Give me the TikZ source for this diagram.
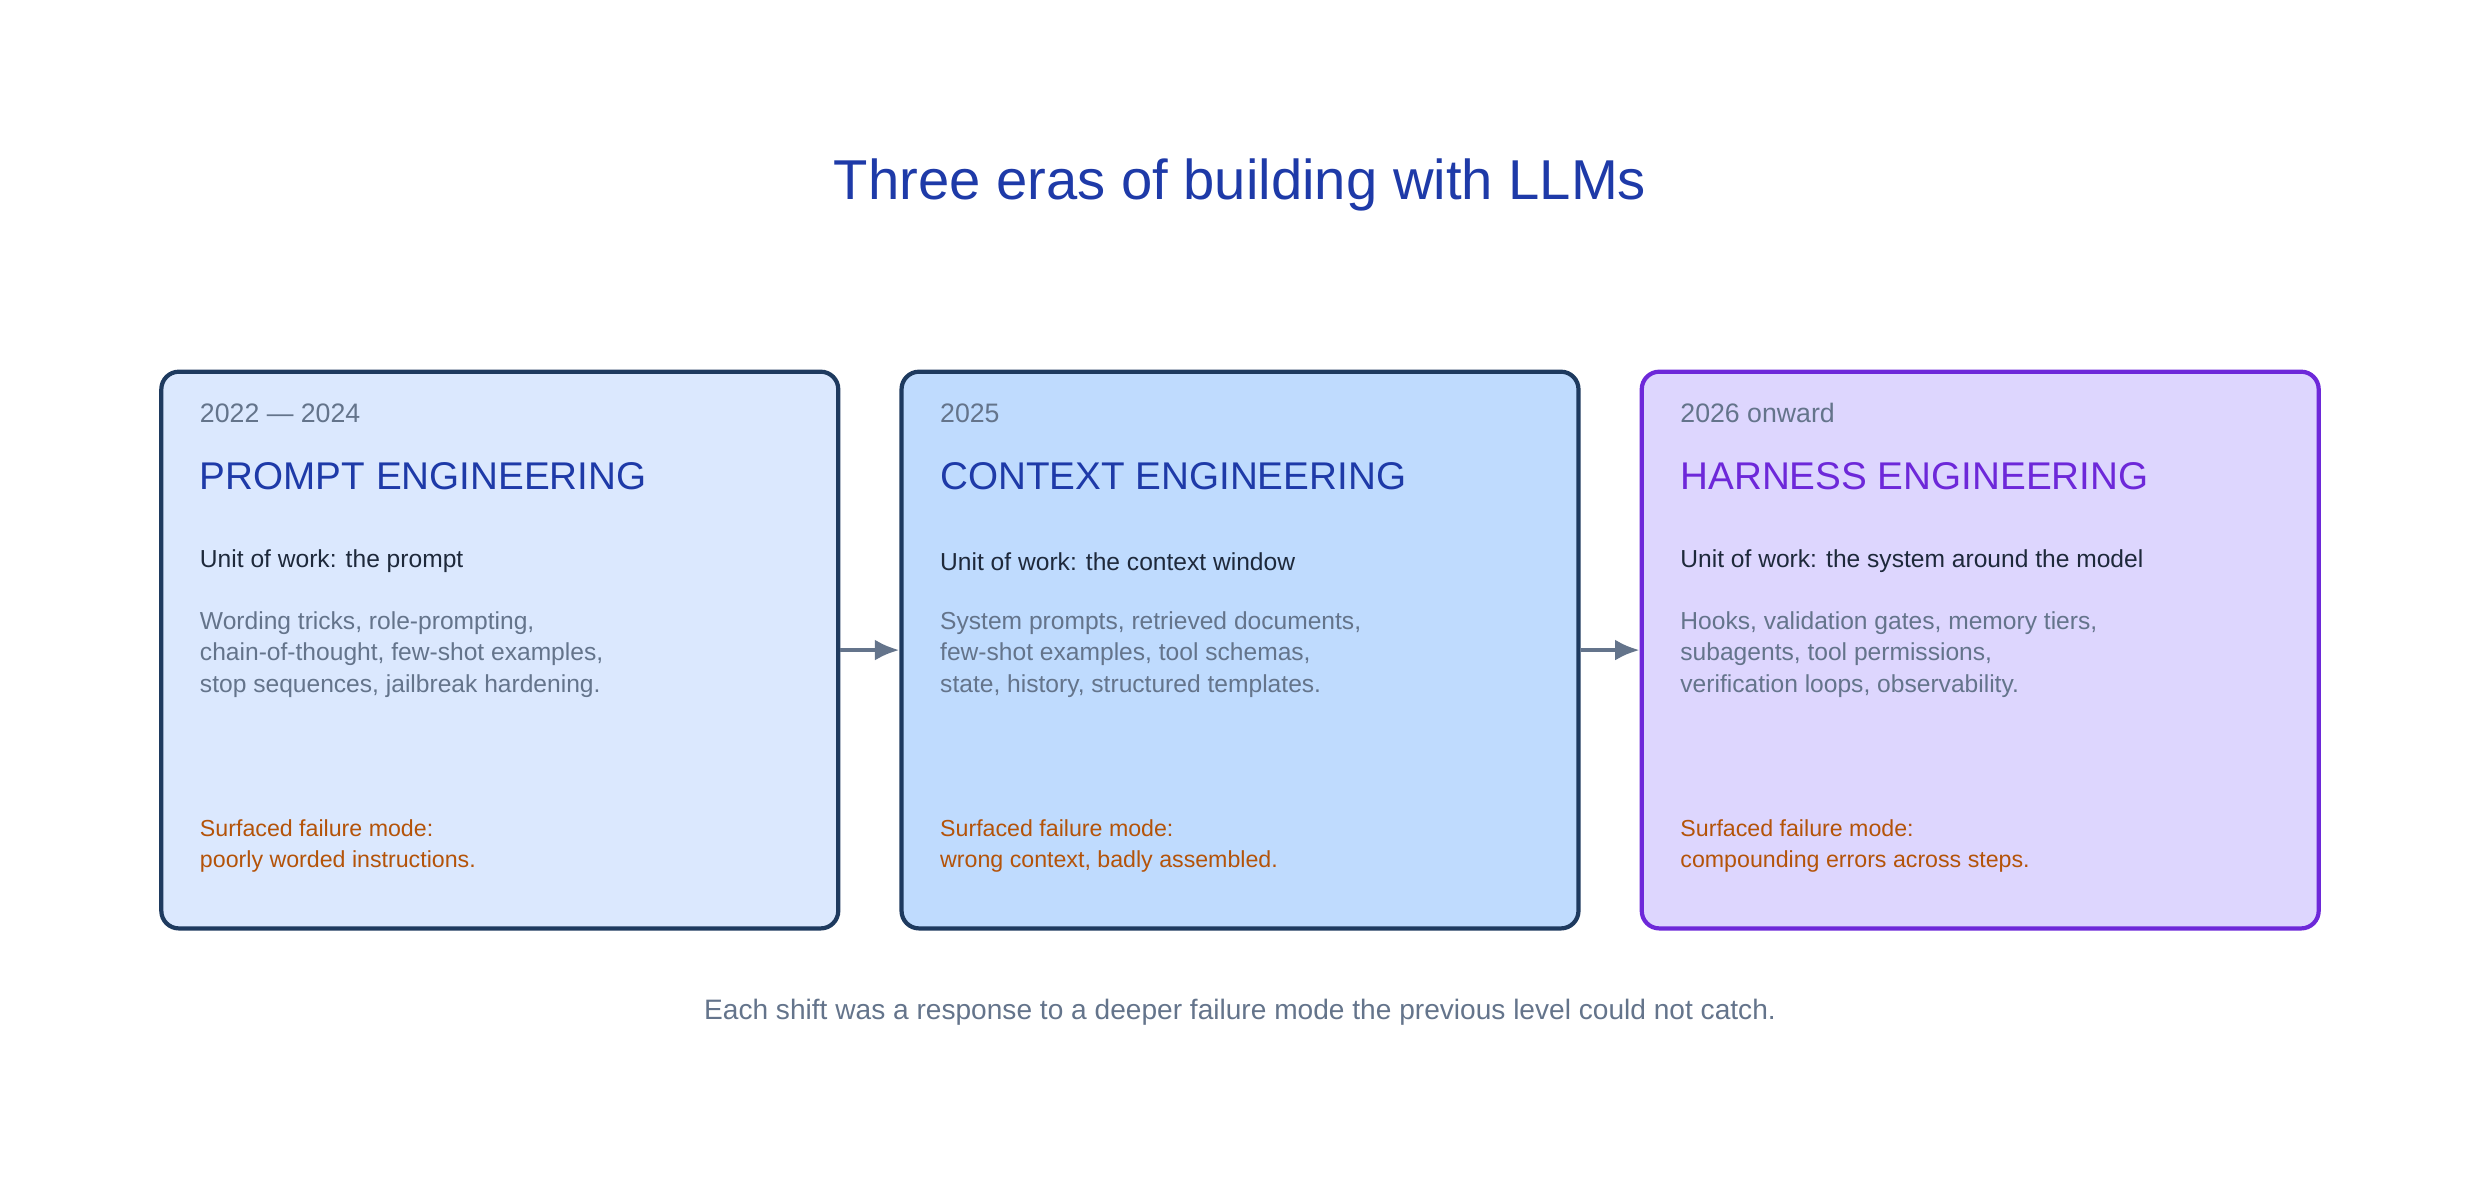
\documentclass[tikz,border=0pt]{standalone}
\usepackage{fontspec}
\setmainfont{Liberation Sans}
\usetikzlibrary{positioning}
\usetikzlibrary{arrows.meta}
\definecolor{titleblue}{HTML}{1E3AA8}
\definecolor{navy}{HTML}{1E3A5F}
\definecolor{fill-one}{HTML}{DBE8FE}
\definecolor{fill-two}{HTML}{BFDBFE}
\definecolor{fill-three}{HTML}{DDD6FE}
\definecolor{violet}{HTML}{6D28D9}
\definecolor{slate}{HTML}{64748B}
\definecolor{ink}{HTML}{1E293B}
\definecolor{rust}{HTML}{B45309}

\begin{document}
\begin{tikzpicture}[x=0.01582cm, y=-0.01582cm, >={Latex[length=7pt,width=6pt]},
  era/.style={draw=navy, line width=1.2pt, rounded corners=5pt, minimum width=428*0.01582cm, minimum height=352*0.01582cm, inner sep=0pt},
  date/.style={anchor=west, text=slate, font=\fontsize{7.6}{9}\selectfont, inner sep=0pt},
  head/.style={anchor=west, text=titleblue, font=\fontsize{11}{13}\selectfont, inner sep=0pt},
  unit/.style={anchor=west, text=ink, font=\fontsize{7}{9}\selectfont, inner sep=0pt},
  desc/.style={anchor=north west, text=slate, align=left, font=\fontsize{7}{9}\selectfont, inner sep=0pt},
  fail/.style={anchor=north west, text=rust, align=left, font=\fontsize{6.6}{8.6}\selectfont, inner sep=0pt},
  link/.style={->, draw=slate, line width=1.2pt}]
\useasboundingbox (0,0) rectangle (1568,761);

% title
\node (title) at (784,117) {\fontsize{16}{19}\selectfont\color{titleblue}Three eras of building with LLMs};

% the three eras
\node [era, fill=fill-one] (prompt) at (316,411) {};
\node [era, fill=fill-two] (context) at (784,411) {};
\node [era, fill=fill-three, draw=violet] (harness) at (1252,411) {};

\node [date] (d1) at (126,261) {2022 — 2024};
\node [head] (h1) at (126,301) {PROMPT ENGINEERING};
\node [unit] (u1) at (126,355) {Unit of work: the prompt};
\node [desc] (w1) at (126,386) {Wording tricks, role-prompting,\\chain-of-thought, few-shot examples,\\stop sequences, jailbreak hardening.};
\node [fail] (f1) at (126,518) {Surfaced failure mode:\\poorly worded instructions.};

\node [date] (d2) at (594,261) {2025};
\node [head] (h2) at (594,301) {CONTEXT ENGINEERING};
\node [unit] (u2) at (594,355) {Unit of work: the context window};
\node [desc] (w2) at (594,386) {System prompts, retrieved documents,\\few-shot examples, tool schemas,\\state, history, structured templates.};
\node [fail] (f2) at (594,518) {Surfaced failure mode:\\wrong context, badly assembled.};

\node [date] (d3) at (1062,261) {2026 onward};
\node [head, text=violet] (h3) at (1062,301) {HARNESS ENGINEERING};
\node [unit] (u3) at (1062,355) {Unit of work: the system around the model};
\node [desc] (w3) at (1062,386) {Hooks, validation gates, memory tiers,\\subagents, tool permissions,\\verification loops, observability.};
\node [fail] (f3) at (1062,518) {Surfaced failure mode:\\compounding errors across steps.};

\draw [link] (prompt) -- (context);
\draw [link] (context) -- (harness);

\node (note) at (784,640) {\fontsize{8}{10}\selectfont\color{slate}Each shift was a response to a deeper failure mode the previous level could not catch.};
\end{tikzpicture}
\end{document}
